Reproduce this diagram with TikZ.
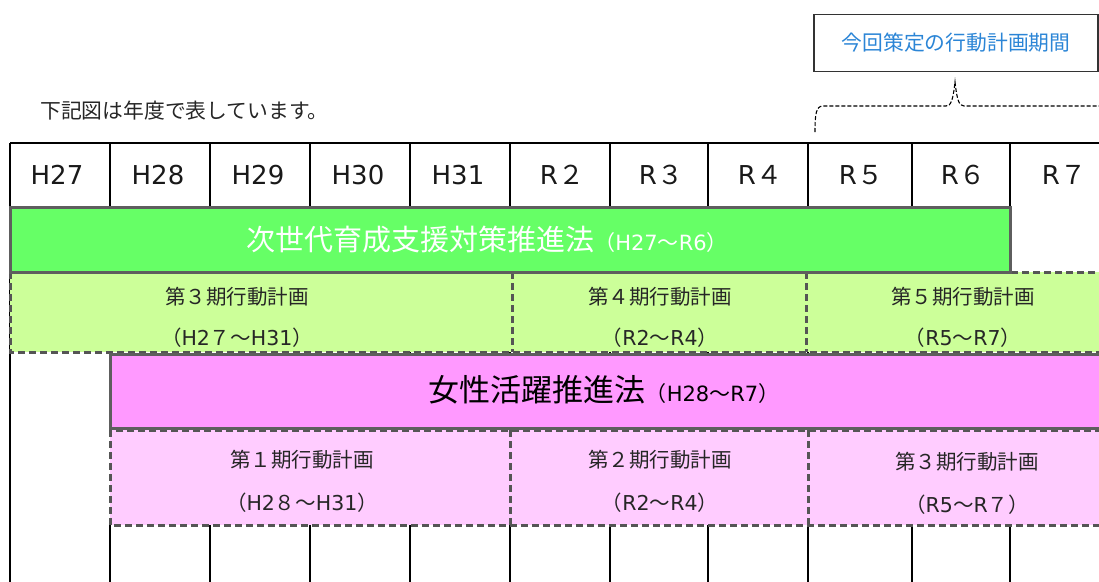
\documentclass[tikz,border=0pt]{standalone}
\usepackage{fontspec}
\setmainfont{Noto Sans CJK JP}
\newfontfamily\lat{DejaVu Sans}
\definecolor{barline}{HTML}{5E5E5E}
\definecolor{dashline}{HTML}{555555}
\definecolor{gbar}{HTML}{66FF66}
\definecolor{gplan}{HTML}{CCFF99}
\definecolor{pbar}{HTML}{FF99FF}
\definecolor{pplan}{HTML}{FFCCFF}
\definecolor{labelblue}{HTML}{2B85D6}
\begin{document}
\begin{tikzpicture}[x=1pt,y=-1pt,
  gridline/.style={line width=1.3pt, black},
  barbox/.style={draw=barline, line width=3pt},
  planbox/.style={draw=dashline, line width=3pt, dash pattern=on 7pt off 4pt},
  hdr/.style={font=\fontsize{26}{28}\selectfont, inner sep=0pt, text=black!90},
  plantext/.style={font=\fontsize{20.5}{22}\selectfont, inner sep=0pt, text=black!85},
  note/.style={font=\fontsize{20.8}{22}\selectfont, inner sep=0pt, text=black!85}]
\useasboundingbox (0,0) rectangle (1099,581);
\clip (0,0) rectangle (1099,581);
% grid
\draw[gridline] (10,143) -- (1105,143);
\foreach \x in {10,110,210,310,410,510,610,708,808,912,1010}
  \draw[gridline] (\x,143) -- (\x,582);
% header labels
\node[hdr] (h27) at (57,175) {\lat H27};
\node[hdr] (h28) at (158,175) {\lat H28};
\node[hdr] (h29) at (258,175) {\lat H29};
\node[hdr] (h30) at (358,175) {\lat H30};
\node[hdr] (h31) at (458,175) {\lat H31};
\node[hdr] (r2) at (562,175) {{\lat R}２};
\node[hdr] (r3) at (661,175) {{\lat R}３};
\node[hdr] (r4) at (760,175) {{\lat R}４};
\node[hdr] (r5) at (861,175) {{\lat R}５};
\node[hdr] (r6) at (963,175) {{\lat R}６};
\node[hdr] (r7) at (1064,175) {{\lat R}７};
% green plans row
\fill[gplan] (10,272) rectangle (1105,352);
\draw[planbox] (10,272) rectangle (1105,352);
\draw[planbox] (512,272) -- (512,352);
\draw[planbox] (806,272) -- (806,352);
% green law bar
\fill[gbar] (10,207) rectangle (1010,272);
\draw[barbox] (10,207) rectangle (1010,272);
\node[text=white, inner sep=0pt] (law1) at (487,240) {\fontsize{29}{32}\selectfont 次世代育成支援対策推進法\fontsize{21}{22}\selectfont（{\lat H27}～{\lat R6}）};
% green plans text
\node[plantext] (g3a) at (237,297) {第３期行動計画};
\node[plantext] (g3b) at (237,338) {（{\lat H2}７～{\lat H31}）};
\node[plantext] (g4a) at (660,297) {第４期行動計画};
\node[plantext] (g4b) at (660,338) {（{\lat R2}～{\lat R4}）};
\node[plantext] (g5a) at (963,297) {第５期行動計画};
\node[plantext] (g5b) at (963,338) {（{\lat R5}～{\lat R7}）};
% area below green plans
\fill[white] (11,354) rectangle (1105,525);
\draw[gridline] (10,353.5) -- (10,582);
% pink plans row
\fill[pplan] (110,430) rectangle (1105,525);
\draw[planbox] (110,430) rectangle (1105,525);
\draw[planbox] (510,430) -- (510,525);
\draw[planbox] (808,430) -- (808,525);
% pink law bar
\fill[pbar] (110,354) rectangle (1105,428);
\draw[barbox] (110,354) rectangle (1105,428);
\node[text=black, inner sep=0pt] (law2) at (604,390) {\fontsize{31}{33}\selectfont 女性活躍推進法\fontsize{21}{22}\selectfont（{\lat H28}～{\lat R7}）};
% pink plans text
\node[plantext] (p1a) at (302,460) {第１期行動計画};
\node[plantext] (p1b) at (302,503) {（{\lat H2}８～{\lat H31}）};
\node[plantext] (p2a) at (660,460) {第２期行動計画};
\node[plantext] (p2b) at (660,503) {（{\lat R2}～{\lat R4}）};
\node[plantext] (p3a) at (967,462) {第３期行動計画};
\node[plantext] (p3b) at (967,505) {（{\lat R5}～{\lat R}７）};
% top notes
\node[note, anchor=west] (memo) at (40,111) {下記図は年度で表しています。};
\node[draw=black!80, line width=1.2pt, minimum width=284pt, minimum height=57pt, inner sep=0pt,
      text=labelblue, font=\fontsize{20.8}{22}\selectfont] (period) at (956,43) {今回策定の行動計画期間};
% dashed brace
\coordinate (bl) at (815,132);
\coordinate (tip) at (955,82);
\coordinate (br) at (1105,106);
\draw[line width=1.1pt, dash pattern=on 4pt off 2pt]
  (bl) .. controls (815,114) and (816,106) .. (823,106) -- (946,106)
  .. controls (951,106) and (953,100) .. (tip)
  .. controls (957,100) and (959,106) .. (964,106) -- (br);
\end{tikzpicture}
\end{document}
